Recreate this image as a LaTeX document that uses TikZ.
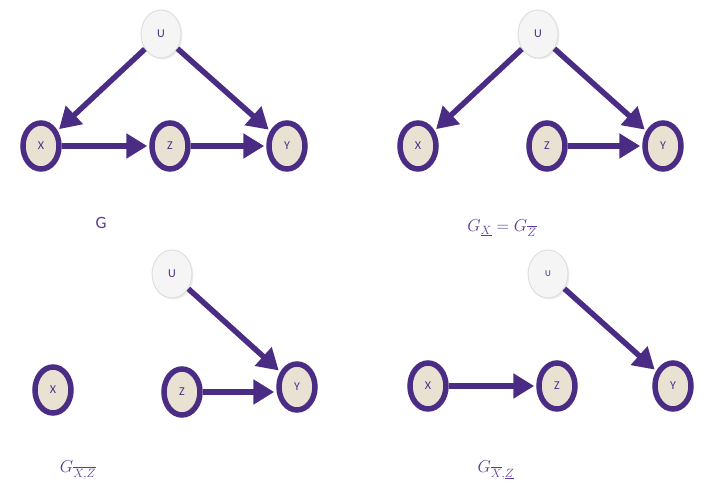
\documentclass[tikz,border=0pt]{standalone}
\usepackage{amsmath}
\usepackage{fontspec}
\setsansfont{Carlito}
\usepackage{tikz}
\usetikzlibrary{arrows.meta,shapes.geometric,shadows}
\definecolor{dagpurple}{HTML}{4B2C84}
\definecolor{nodefill}{HTML}{E9E2D3}
\definecolor{labelpurple}{HTML}{5A3A96}

\begin{document}
\begin{tikzpicture}[
    x=1pt, y=-1pt,
    var/.style={ellipse, draw=dagpurple, fill=nodefill, line width=5.5pt,
                minimum width=36pt, minimum height=46pt, inner sep=0pt,
                font=\sffamily\large, text=dagpurple,
                drop shadow={shadow xshift=1.5pt, shadow yshift=-1.5pt, opacity=0.15}},
    latent/.style={ellipse, draw=gray!25, fill=gray!8, line width=1pt,
                   minimum width=40pt, minimum height=48pt, inner sep=0pt,
                   font=\sffamily\large, text=dagpurple,
                   drop shadow={shadow xshift=1.5pt, shadow yshift=-1.5pt, opacity=0.15}},
    arrow/.style={-{Triangle[length=21pt, width=24pt]}, line width=5.5pt,
                  draw=dagpurple, shorten >=2pt},
    caption/.style={text=labelpurple, font=\LARGE}
]
\useasboundingbox (0,0) rectangle (702,487);

% Panel 1: G
\node[latent] (u1) at (161,34) {U};
\node[var] (x1) at (41,146) {X};
\node[var] (z1) at (170,146) {Z};
\node[var] (y1) at (287,146) {Y};
\node[caption, font=\sffamily\LARGE] (g1) at (101,223) {G};

\draw[arrow] (u1) -- (x1);
\draw[arrow] (u1) -- (y1);
\draw[arrow] (x1) -- (z1);
\draw[arrow] (z1) -- (y1);

% Panel 2: G with X underlined, Z overlined
\node[latent] (u2) at (538,34) {U};
\node[var] (x2) at (418,146) {X};
\node[var] (z2) at (547,146) {Z};
\node[var] (y2) at (663,146) {Y};
\node[caption] (g2) at (502,228) {$G_{\underline{X}} = G_{\overline{Z}}$};

\draw[arrow] (u2) -- (x2);
\draw[arrow] (u2) -- (y2);
\draw[arrow] (z2) -- (y2);

% Panel 3: G with X and Z overlined
\node[latent] (u3) at (172,274) {U};
\node[var] (x3) at (53,390) {X};
\node[var] (z3) at (182,392) {Z};
\node[var] (y3) at (297,387) {Y};
\node[caption] (g3) at (78,470) {$G_{\overline{X,Z}}$};

\draw[arrow] (u3) -- (y3);
\draw[arrow] (z3) -- (z3 -| y3.west);

% Panel 4: G with X overlined, Z underlined
\node[latent, font=\sffamily\small] (u4) at (548,274) {U};
\node[var] (x4) at (428,386) {X};
\node[var] (z4) at (557,386) {Z};
\node[var] (y4) at (673,386) {Y};
\node[caption] (g4) at (496,470) {$G_{\overline{X},\underline{Z}}$};

\draw[arrow] (u4) -- (y4);
\draw[arrow] (x4) -- (z4);

\end{tikzpicture}
\end{document}
